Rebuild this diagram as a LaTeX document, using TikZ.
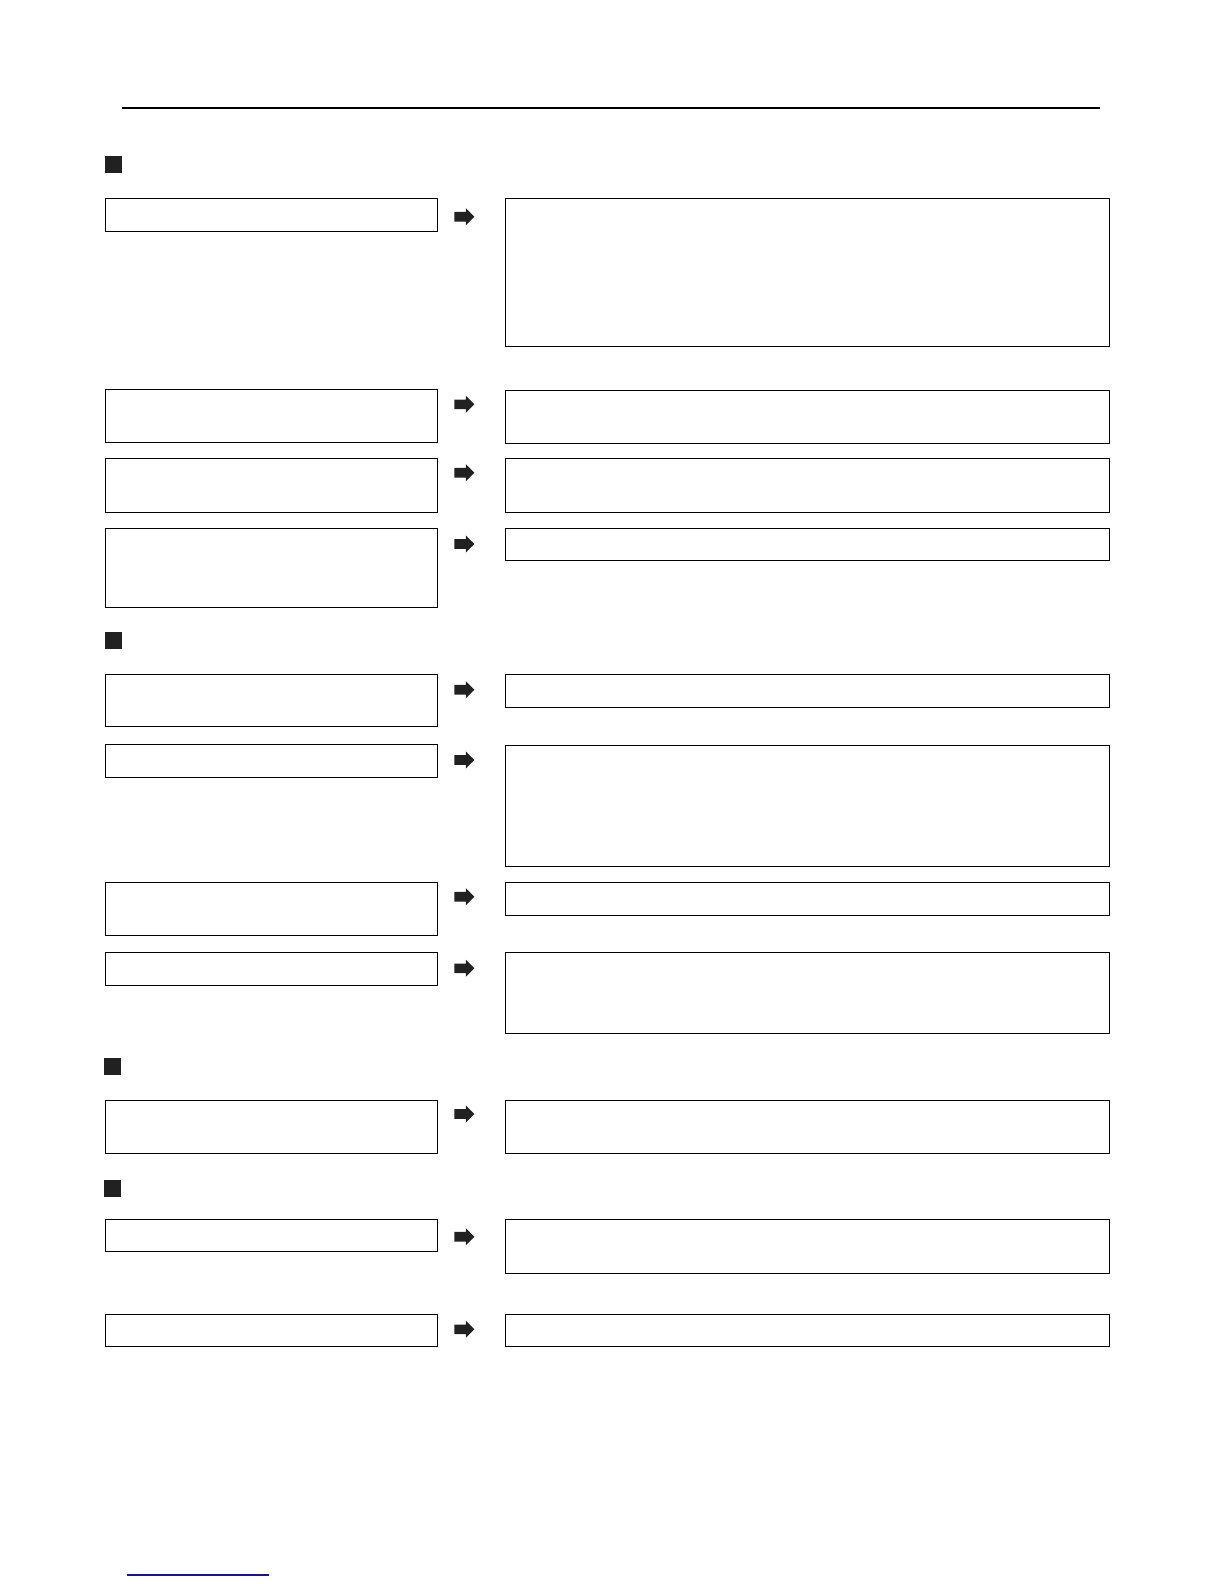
\documentclass[tikz,border=0pt]{standalone}
\usetikzlibrary{shapes.arrows}
\definecolor{linkblue}{RGB}{20,20,150}

\begin{document}
\begin{tikzpicture}[
x = 0.5pt, y = -0.5pt,
  lbox/.style = {draw, line width=0.6pt,
                 anchor=north west, inner sep=0pt, outer sep=0pt,
                 minimum width=166pt, minimum height=#1,
                 node contents={}},
  rbox/.style = {draw, line width=0.6pt,
                 anchor=north west, inner sep=0pt, outer sep=0pt,
                 minimum width=302pt, minimum height=#1,
                 node contents={}},
   arr/.style = {single arrow, fill=black!87, draw=none,
                 inner xsep=0pt, inner ysep=2.2pt, outer sep=0pt,
                 minimum height=10pt, minimum width=0pt,
                 single arrow head extend=1.9pt,
                 node contents={}},
   sqr/.style = {fill=black!87, anchor=north west,
                 inner sep=0pt, minimum size=8.5pt,
                 node contents={}}
                        ]
\useasboundingbox (0,0) rectangle (1224,1584);
    % rules
\coordinate (t1) at (122,107.7);
\coordinate (t2) at (1100,107.7);
\draw[line width=1pt] (t1) -- (t2);
\coordinate (b1) at (126.7,1575);
\coordinate (b2) at (269,1575);
\draw[linkblue, line width=0.6pt] (b1) -- (b2);
    % section marks
\node (s1) at (105,156)  [sqr];
\node (s2) at (105,632)  [sqr];
\node (s3) at (104,1058) [sqr];
\node (s4) at (104,1180) [sqr];
    % blocks (left)
\node (l1)  at (105.5,198.5)  [lbox=16.5pt];
\node (l2)  at (105.5,389.5)  [lbox=26.5pt];
\node (l3)  at (105.5,458.5)  [lbox=27pt];
\node (l4)  at (105.5,528.5)  [lbox=39.5pt];
\node (l5)  at (105.5,674.5)  [lbox=26pt];
\node (l6)  at (105.5,744.5)  [lbox=16.5pt];
\node (l7)  at (105.5,882.5)  [lbox=26.5pt];
\node (l8)  at (105.5,952.5)  [lbox=16.5pt];
\node (l9)  at (105.5,1100.5) [lbox=26.5pt];
\node (l10) at (105.5,1219.5) [lbox=16pt];
\node (l11) at (105.5,1314.5) [lbox=16pt];
    % blocks (right)
\node (r1)  at (505.5,198.5)  [rbox=74pt];
\node (r2)  at (505.5,390.5)  [rbox=26.5pt];
\node (r3)  at (505.5,458.5)  [rbox=27pt];
\node (r4)  at (505.5,528.5)  [rbox=16pt];
\node (r5)  at (505.5,674.5)  [rbox=16.5pt];
\node (r6)  at (505.5,745.5)  [rbox=60.5pt];
\node (r7)  at (505.5,882.5)  [rbox=16.5pt];
\node (r8)  at (505.5,952.5)  [rbox=40.5pt];
\node (r9)  at (505.5,1100.5) [rbox=26.5pt];
\node (r10) at (505.5,1219.5) [rbox=27pt];
\node (r11) at (505.5,1314.5) [rbox=16pt];
    % arrows
\node (a1)  at (462,216.7)  [arr];
\node (a2)  at (462,404.3)  [arr];
\node (a3)  at (462,472.7)  [arr];
\node (a4)  at (462,544)    [arr];
\node (a5)  at (462,689.7)  [arr];
\node (a6)  at (462,760)    [arr];
\node (a7)  at (462,896.7)  [arr];
\node (a8)  at (462,968.3)  [arr];
\node (a9)  at (462,1114)   [arr];
\node (a10) at (462,1236.7) [arr];
\node (a11) at (462,1329.3) [arr];
\end{tikzpicture}
\end{document}
